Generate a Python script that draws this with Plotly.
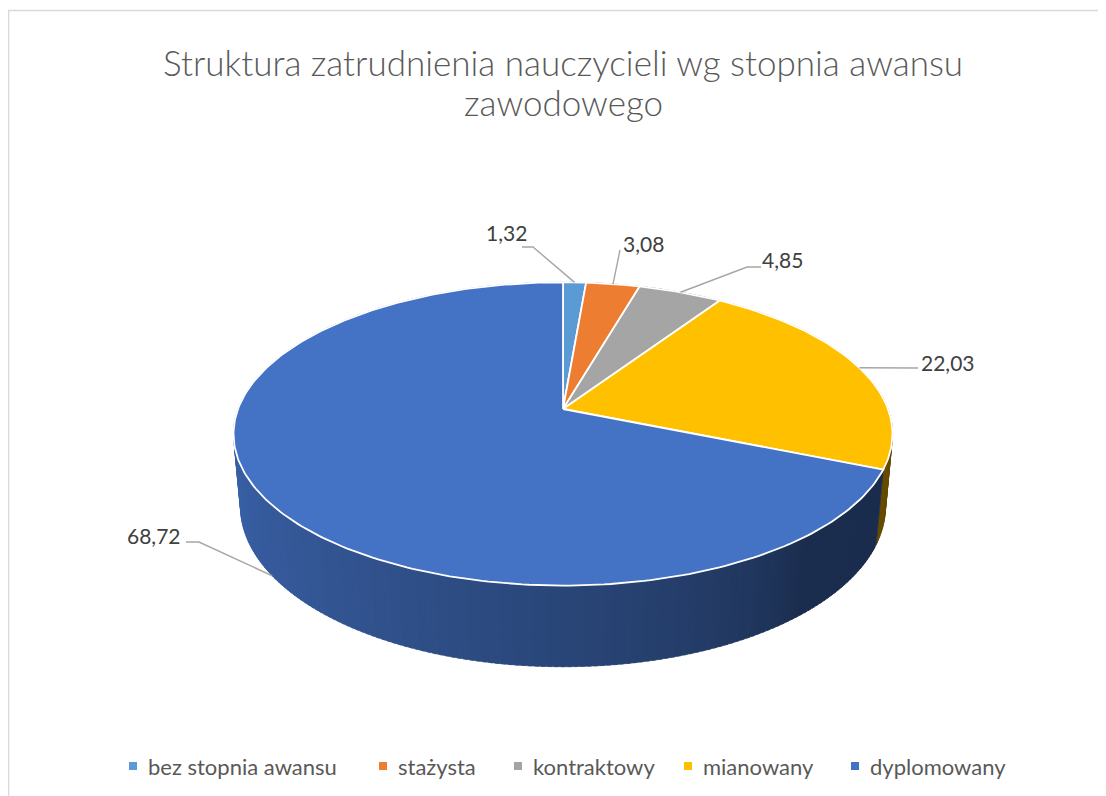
import numpy as np
import plotly.graph_objects as go

# ---- data ----
categories = ["bez stopnia awansu", "stażysta", "kontraktowy", "mianowany", "dyplomowany"]
values = [1.32, 3.08, 4.85, 22.03, 68.72]
value_labels = ["1,32", "3,08", "4,85", "22,03", "68,72"]
colors = ["#5B9BD5", "#ED7D31", "#A5A5A5", "#FFC000", "#4472C4"]
title_lines = ["Struktura zatrudnienia nauczycieli wg stopnia awansu", "zawodowego"]

# ---- layout / geometry (pixels of the page) ----
W, H = 1106, 796
OFF = 8  # page body margin
CX, CY = 563, 409
DIST = 5.42
FOCAL = 325 * DIST
TILT = np.radians(27)
THICK = 0.253
FONT = "Lato"

# label text centres and leader elbows (layout positions)
label_pos = [(506, 232), (643, 243), (782, 259), (948, 362), (154, 535)]
leader_start = [[(522, 247), (533, 247)], [(620, 250)], [(761, 267), (747, 267)],
                [(918, 368)], [(186, 542), (199, 542)]]
legend_marker_x = [133, 383, 518, 688, 855]
legend_y = 766
title_y = [62, 102]


def project(theta, down=0.0, r=1.0):
    x = r * np.sin(theta)
    d = r * np.cos(theta)
    s, c = np.sin(TILT), np.cos(TILT)
    Y = d * s - down * c
    Z = DIST + d * c + down * s
    return CX + FOCAL * x / Z, CY - FOCAL * Y / Z, Z


def shade(hexcol, f):
    h = hexcol.lstrip("#")
    r, g, b = (int(h[i:i + 2], 16) for i in (0, 2, 4))
    return "rgb(%d,%d,%d)" % (r * f, g * f, b * f)


def side_factor(theta):
    deg = np.degrees(theta) % 360
    t = np.clip((deg - 140) / 125.0, 0, 1)
    return 0.40 + 0.48 * t ** 0.7


fig = go.Figure()

total = sum(values)
bounds = np.concatenate([[0], np.cumsum(values)]) / total * 2 * np.pi

# side quads (slightly overlapping to hide seams)
quads = []
for i, v in enumerate(values):
    a, b = bounds[i], bounds[i + 1]
    n = max(2, int(np.degrees(b - a) / 1.0))
    th = np.linspace(a, b, n + 1)
    step = th[1] - th[0]
    for k in range(n):
        t1, t2 = th[k], min(th[k + 1] + 0.6 * step, b)
        x1, y1, z1 = project(t1)
        x2, y2, z2 = project(t2)
        x3, y3, _ = project(t2, THICK)
        x4, y4, _ = project(t1, THICK)
        col = shade(colors[i], side_factor((th[k] + th[k + 1]) / 2))
        quads.append(((z1 + z2) / 2, [x1, x2, x3, x4, x1], [y1, y2, y3, y4, y1], col))
quads.sort(key=lambda q: -q[0])
for _, xs, ys, col in quads:
    fig.add_trace(go.Scatter(x=xs, y=ys, mode="lines", fill="toself", fillcolor=col,
                             line=dict(color=col, width=0.6), hoverinfo="skip",
                             showlegend=False))

# top faces
for i, v in enumerate(values):
    a, b = bounds[i], bounds[i + 1]
    th = np.linspace(a, b, max(3, int(np.degrees(b - a) / 1.0)))
    px, py, _ = project(th)
    xs = [CX] + list(px) + [CX]
    ys = [CY] + list(py) + [CY]
    fig.add_trace(go.Scatter(x=xs, y=ys, mode="lines", fill="toself", fillcolor=colors[i],
                             line=dict(color="white", width=1.8), hoverinfo="text",
                             text=f"{categories[i]}: {value_labels[i]}", showlegend=False))

# leader lines and labels
for i, v in enumerate(values):
    mid = (bounds[i] + bounds[i + 1]) / 2
    down = THICK if np.cos(mid) < 0 else 0.0
    ax, ay, _ = project(mid, down)
    pts = leader_start[i] + [(ax, ay)]
    fig.add_trace(go.Scatter(x=[p[0] for p in pts], y=[p[1] for p in pts], mode="lines",
                             line=dict(color="#A6A6A6", width=1.4), hoverinfo="skip",
                             showlegend=False))
    fig.add_annotation(x=label_pos[i][0], y=label_pos[i][1], text=value_labels[i],
                       showarrow=False, font=dict(family=FONT, size=21, color="#404040"),
                       xanchor="center", yanchor="middle")

# legend (drawn manually to match spacing)
fig.add_trace(go.Scatter(x=legend_marker_x, y=[legend_y] * len(colors), mode="markers",
                         marker=dict(symbol="square", size=8, color=colors, line=dict(width=0)),
                         hoverinfo="skip", showlegend=False))
for mx, name in zip(legend_marker_x, categories):
    fig.add_annotation(x=mx + 13, y=legend_y, text=name, showarrow=False,
                       font=dict(family=FONT, size=22, color="#595959"),
                       xanchor="left", yanchor="middle")

# title
for ty, line in zip(title_y, title_lines):
    fig.add_annotation(x=563, y=ty, text=line, showarrow=False,
                       font=dict(family=FONT, size=35, color="#595959", weight=300),
                       xanchor="center", yanchor="middle")

fig.add_shape(type="rect", x0=8.5, y0=10.5, x1=W + 20, y1=H + 20,
              line=dict(color="#D9D9D9", width=1.5), layer="below")

fig.update_layout(
    width=W, height=H, margin=dict(l=0, r=0, t=0, b=0),
    paper_bgcolor="white", plot_bgcolor="white",
    xaxis=dict(range=[OFF, W + OFF], visible=False, fixedrange=True),
    yaxis=dict(range=[H + OFF, OFF], visible=False, fixedrange=True),
    showlegend=False,
)

fig.write_html("out.html")
